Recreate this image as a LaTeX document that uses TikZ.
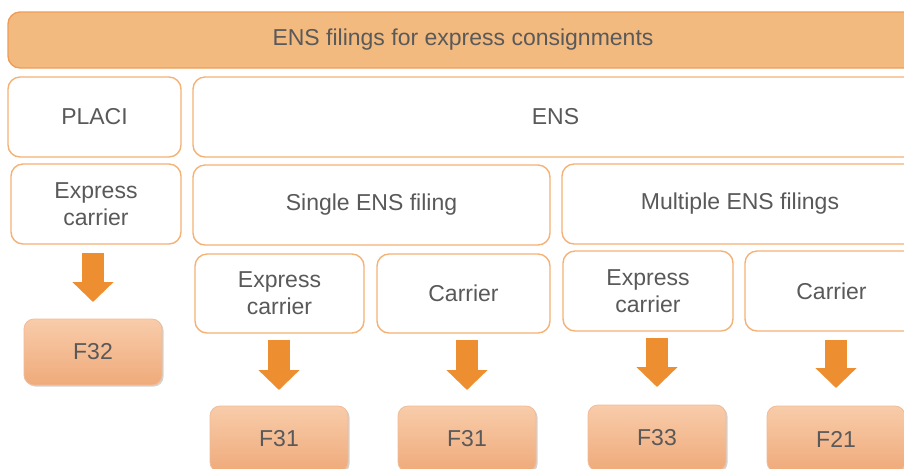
\documentclass[tikz,border=0pt]{standalone}
\usepackage{fontspec}
\setmainfont{Liberation Sans}
\usetikzlibrary{shadows,arrows.meta}
\definecolor{barfill}{RGB}{243,186,128}
\definecolor{barline}{RGB}{238,158,88}
\definecolor{boxline}{RGB}{244,178,118}
\definecolor{txtgray}{RGB}{89,89,89}
\definecolor{ftop}{RGB}{248,204,170}
\definecolor{fbot}{RGB}{239,170,122}
\definecolor{arrfill}{RGB}{237,142,48}
\tikzset{
  lbl/.style={inner sep=0pt, outer sep=0pt, text=txtgray, align=center,
    font=\fontsize{11.5}{13.5}\selectfont},
  titlebar/.style={lbl, draw=barline, fill=barfill, line width=0.7pt, rounded corners=6pt},
  catbox/.style={lbl, draw=boxline, fill=white, line width=0.7pt, rounded corners=6pt},
  formbox/.style={lbl, top color=ftop, bottom color=fbot, draw=fbot!80!white, line width=0.4pt,
    rounded corners=5pt, minimum width=69pt, minimum height=33pt,
    drop shadow={shadow xshift=0.8pt, shadow yshift=-0.8pt, opacity=0.35}},
  blockarrow/.style={draw=arrfill, line width=11pt, line cap=butt,
    -{Triangle[width=20pt,length=10pt]}}
}
\begin{document}
\begin{tikzpicture}[x=0.5pt,y=-0.5pt]
		\useasboundingbox (0,0) rectangle (904,468);
		\clip (0,0) rectangle (904,468);

		% Title
		\node[titlebar, minimum width=455pt, minimum height=28pt] (title) at (463,40) {ENS filings for express consignments};

		% PLACI column
		\node[catbox, minimum width=86.5pt, minimum height=40pt] (placi) at (94.5,117) {PLACI};
		\node[catbox, minimum width=85pt, minimum height=40pt] (expA) at (96,204) {Express\\carrier};
		\node[formbox] (fA) at (93,352) {F32};

		% ENS column
		\node[catbox, minimum width=362.5pt, minimum height=40pt] (ens) at (555.5,117) {ENS};
		\node[catbox, minimum width=178.5pt, minimum height=40pt] (single) at (371.5,205) {Single ENS filing};
		\node[catbox, minimum width=178pt, minimum height=40pt] (multi) at (740,204) {Multiple ENS filings};

		\node[catbox, minimum width=84.5pt, minimum height=39.5pt] (expB) at (279.5,293.5) {Express\\carrier};
		\node[catbox, minimum width=86.5pt, minimum height=39.5pt] (carB) at (463.5,293.5) {Carrier};
		\node[catbox, minimum width=85pt, minimum height=40pt] (expC) at (648,291) {Express\\carrier};
		\node[catbox, minimum width=86.5pt, minimum height=40pt] (carC) at (831.5,291) {Carrier};

		\node[formbox] (fB) at (279,439) {F31};
		\node[formbox] (fC) at (467,439) {F31};
		\node[formbox] (fD) at (657,438) {F33};
		\node[formbox] (fE) at (836,439) {F21};

		% Arrows
		\draw[blockarrow] ([yshift=-4.5pt]fA.north |- expA.south) -- ([yshift=8.5pt]fA.north);
		\draw[blockarrow] ([yshift=-3.5pt]fB.north |- expB.south) -- ([yshift=8pt]fB.north);
		\draw[blockarrow] ([yshift=-3.5pt]fC.north |- carB.south) -- ([yshift=8pt]fC.north);
		\draw[blockarrow] ([yshift=-3.5pt]fD.north |- expC.south) -- ([yshift=9pt]fD.north);
		\draw[blockarrow] ([yshift=-4.5pt]fE.north |- carC.south) -- ([yshift=9pt]fE.north);
	\end{tikzpicture}
\end{document}
